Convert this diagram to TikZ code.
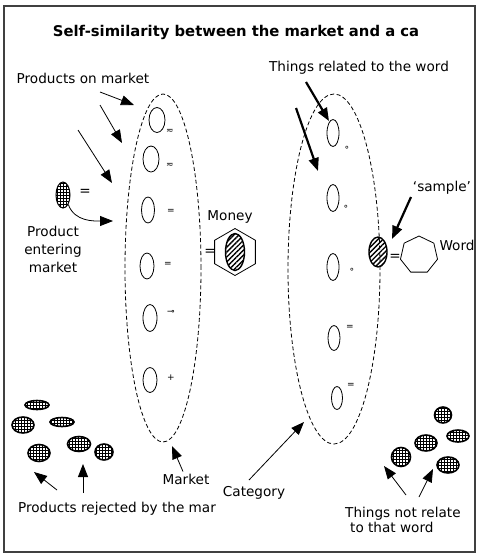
\documentclass[tikz,border=0pt]{standalone}
\usepackage{fontspec}
\setmainfont{DejaVu Sans}
\usepackage{tikz}
\usetikzlibrary{arrows.meta,shapes.geometric,patterns,patterns.meta}

\begin{document}
\begin{tikzpicture}[x=1pt, y=-1pt,
    every node/.style={font=\fontsize{13.6}{15}\selectfont, inner sep=1pt},
    title/.style={font=\fontsize{14.8}{16}\selectfont\bfseries},
    tiny/.style={font=\fontsize{9}{9}\selectfont, inner sep=0pt},
    group/.style={ellipse, draw, dash pattern=on 4pt off 2.5pt, line width=0.8pt, inner sep=0pt},
    item/.style={ellipse, draw, line width=0.8pt, inner sep=0pt},
    grain/.style={ellipse, draw, line width=1.6pt, pattern=grid, inner sep=0pt},
    hatched/.style={ellipse, draw, line width=1.4pt, inner sep=0pt,
                    pattern={Lines[angle=45, distance=3.5pt, line width=1.4pt]}},
    bigarrow/.style={-{Triangle[length=13pt, width=10pt]}, line width=0.8pt},
    fatarrow/.style={-{Triangle[length=13pt, width=10pt]}, line width=2.2pt}]

  \useasboundingbox (0,0) rectangle (482,558);
  \draw[line width=1.6pt, black!75] (4,6) rectangle (475,552);

  \node[title] (title) at (236,32) {Self-similarity between the market and a ca};

  % the market
  \node[group, minimum width=76, minimum height=348] (market) at (163,268) {};
  \node[item, minimum width=16, minimum height=25] (p1) at (157,120) {};
  \node[item, minimum width=16, minimum height=26] (p2) at (151,159) {};
  \node[item, minimum width=13, minimum height=26] (p3) at (148,210) {};
  \node[item, minimum width=14, minimum height=26] (p4) at (147,266) {};
  \node[item, minimum width=14, minimum height=27] (p5) at (150,318) {};
  \node[item, minimum width=14, minimum height=25] (p6) at (150,380) {};
  \node[tiny] (m1) at (170,131) {≂};
  \node[tiny] (m2) at (170,165) {≂};
  \node[tiny] (m3) at (171,211) {=};
  \node[tiny] (m4) at (168,264) {=};
  \node[tiny] (m5) at (171,312) {⊸};
  \node[tiny] (m6) at (171,378) {+};

  \node (onmarket) at (83,78) {Products on market};
  \coordinate (a1) at (100,92);
  \coordinate (a2) at (100,105);
  \coordinate (a3) at (78,130);
  \coordinate (t1) at (134,105);
  \coordinate (t2) at (122,143);
  \coordinate (t3) at (112,183);
  \draw[bigarrow] (a1) -- (t1);
  \draw[bigarrow] (a2) -- (t2);
  \draw[bigarrow] (a3) -- (t3);

  \node[grain, line width=1pt, minimum width=14, minimum height=26] (entry) at (63,195) {};
  \node (eqentry) at (85,192) {=};
  \coordinate (t4) at (113,221);
  \draw[bigarrow] (entry.south east) to[out=-70, in=180] (t4);
  \node[align=center, font=\fontsize{13.6}{18}\selectfont] (entering) at (53,249) {Product\\entering\\market};

  \node (money) at (230,217) {Money};
  \node (eqmoney) at (210,252) {=};
  \node[regular polygon, regular polygon sides=6, shape border rotate=30, draw,
        line width=0.8pt, minimum size=47, inner sep=0pt] (moneyhex) at (235,252) {};
  \node[hatched, minimum width=19, minimum height=37] (coin) at (235,252) {};

  % rejected products
  \node[grain, minimum width=24, minimum height=9]  (r1) at (37,405) {};
  \node[grain, minimum width=22, minimum height=16] (r2) at (23,425) {};
  \node[grain, minimum width=24, minimum height=9]  (r3) at (62,422) {};
  \node[grain, minimum width=22, minimum height=17] (r4) at (39,453) {};
  \node[grain, minimum width=23, minimum height=15] (r5) at (79,444) {};
  \node[grain, minimum width=18, minimum height=16] (r6) at (104,452) {};
  \coordinate (b1) at (57,490);
  \coordinate (b2) at (83,493);
  \coordinate (u1) at (34,472);
  \coordinate (u2) at (83,464);
  \draw[bigarrow] (b1) -- (u1);
  \draw[bigarrow] (b2) -- (u2);
  \node (rejected) at (117,509) {Products rejected by the mar};

  \node (marketlbl) at (186,479) {Market};
  \coordinate (u3) at (172,446);
  \draw[bigarrow] (marketlbl.north) ++(-3,-1) coordinate (b3) -- (u3);

  % the category
  \node[group, minimum width=92, minimum height=350] (category) at (334,269) {};
  \node[item, minimum width=12, minimum height=27] (c1) at (333,133) {};
  \node[item, minimum width=12, minimum height=27] (c2) at (333,198) {};
  \node[item, minimum width=12, minimum height=27] (c3) at (333,267) {};
  \node[item, minimum width=12, minimum height=25] (c4) at (334,338) {};
  \node[item, minimum width=11, minimum height=23] (c5) at (337,398) {};
  \node[tiny] (n1) at (347,148) {∘};
  \node[tiny] (n2) at (346,207) {∘};
  \node[tiny] (n3) at (352,270) {∘};
  \node[tiny] (n4) at (350,327) {=};
  \node[tiny] (n5) at (351,385) {=};

  \node (related) at (359,68) {Things related to the word};
  \coordinate (d1) at (306,82);
  \coordinate (d2) at (296,108);
  \coordinate (s1) at (329,121);
  \coordinate (s2) at (318,171);
  \draw[fatarrow] (d1) -- (s1);
  \draw[fatarrow] (d2) -- (s2);

  \node[hatched, minimum width=18, minimum height=30] (sample) at (378,252) {};
  \node (samplelbl) at (442,188) {‘sample’};
  \coordinate (d3) at (411,197);
  \coordinate (s3) at (392,239);
  \draw[fatarrow] (d3) -- (s3);
  \node (eqword) at (395,257) {=};
  \node[regular polygon, regular polygon sides=7, draw, line width=0.8pt,
        minimum size=38, inner sep=0pt] (wordgon) at (419,255) {};
  \node (word) at (457,245) {Word};

  \node (catlbl) at (254,493) {Category};
  \coordinate (d4) at (249,480);
  \coordinate (s4) at (304,422);
  \draw[bigarrow] (d4) -- (s4);

  % unrelated things
  \node[grain, minimum width=17, minimum height=16] (x1) at (443,415) {};
  \node[grain, minimum width=22, minimum height=12] (x2) at (458,436) {};
  \node[grain, minimum width=22, minimum height=16] (x3) at (426,443) {};
  \node[grain, minimum width=19, minimum height=19] (x4) at (401,457) {};
  \node[grain, minimum width=22, minimum height=16] (x5) at (448,465) {};
  \coordinate (d5) at (406,495);
  \coordinate (d6) at (419,497);
  \coordinate (s5) at (384,466);
  \coordinate (s6) at (433,469);
  \draw[bigarrow] (d5) -- (s5);
  \draw[bigarrow] (d6) -- (s6);
  \node[align=left, anchor=west] (notrel) at (344,520) {Things not relate\\\hspace{5pt}to that word};
\end{tikzpicture}
\end{document}
